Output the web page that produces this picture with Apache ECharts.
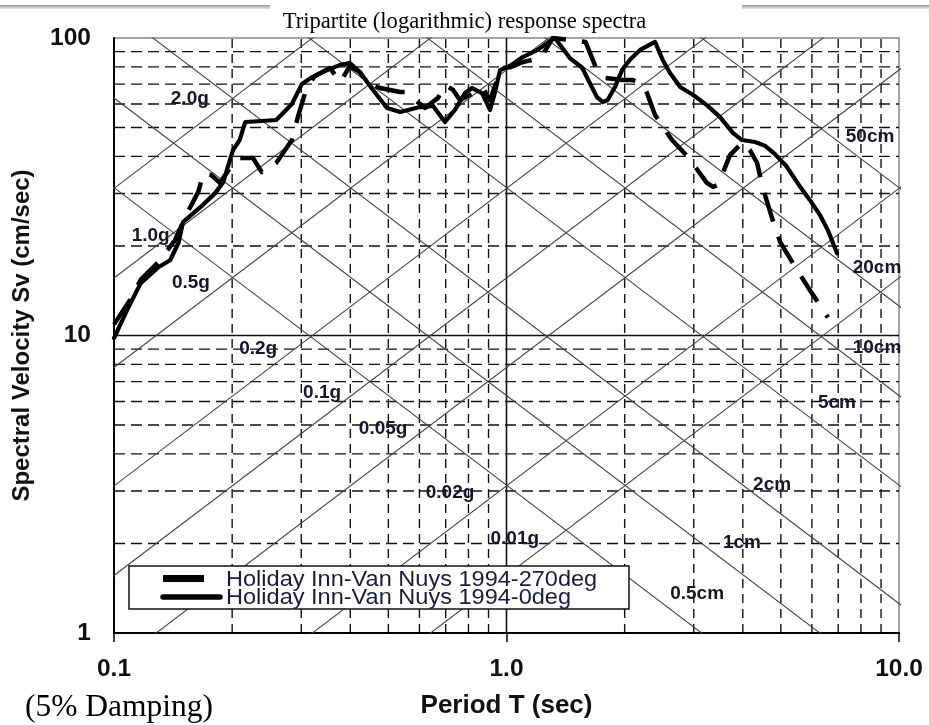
<!DOCTYPE html>
<html>
<head>
<meta charset="utf-8">
<script src="https://cdn.jsdelivr.net/npm/echarts@6/dist/echarts.min.js"></script>
<style>
html,body{margin:0;padding:0;background:#fff;}
#chart{width:929px;height:725px;}
</style>
</head>
<body>
<div id="chart"></div>
<script>
// ---------------- data ----------------
const titleText = 'Tripartite (logarithmic) response spectra';
const xAxisName = 'Period T (sec)';
const yAxisName = 'Spectral Velocity Sv (cm/sec)';
const dampingNote = '(5% Damping)';
const seriesNames = ['Holiday Inn-Van Nuys 1994-270deg', 'Holiday Inn-Van Nuys 1994-0deg'];

const xTickValues = [0.1, 1, 10];
const xTickLabels = ['0.1', '1.0', '10.0'];
const yTickValues = [1, 10, 100];
const yTickLabels = ['1', '10', '100'];

const xMinorGrid = [0.2, 0.3, 0.4, 0.5, 0.6, 0.7, 0.8, 0.9, 2, 3, 4, 5, 6, 7, 8, 9];
const yMinorGrid = [2, 3, 4, 5, 6, 7, 8, 9, 20, 30, 40, 50, 60, 70, 80, 90];
const xMajorGrid = [1];
const yMajorGrid = [10];

// tripartite diagonals: pseudo-acceleration (g) and displacement (cm)
const accelLevels = [0.01, 0.02, 0.05, 0.1, 0.2, 0.5, 1, 2];
const dispLevels = [0.5, 1, 2, 5, 10, 20, 50];
const gravity = 981; // cm/s^2

// diagonal labels: text and anchor (T, Sv)
const diagLabels = ['2.0g', '1.0g', '0.5g', '0.2g', '0.1g', '0.05g', '0.02g', '0.01g',
                    '50cm', '20cm', '10cm', '5cm', '2cm', '1cm', '0.5cm'];
const diagLabelT = [0.156, 0.124, 0.157, 0.233, 0.339, 0.485, 0.718, 1.05,
                    8.44, 8.79, 8.79, 6.95, 4.75, 3.98, 3.06];
const diagLabelSv = [62.4, 21.6, 15.0, 9.0, 6.41, 4.85, 2.95, 2.07,
                     46.5, 16.9, 9.08, 5.93, 3.15, 2.01, 1.36];

// Holiday Inn - Van Nuys 1994, 270deg (dashed)
const period270 = [0.100, 0.110, 0.117, 0.130, 0.143, 0.154, 0.164, 0.169, 0.177, 0.186,
  0.200, 0.209, 0.226, 0.238, 0.259, 0.284, 0.294, 0.310, 0.325, 0.355,
  0.377, 0.399, 0.423, 0.441, 0.476, 0.536, 0.558, 0.585, 0.620, 0.669,
  0.697, 0.731, 0.761, 0.807, 0.871, 0.908, 0.946, 0.974, 1.02, 1.10,
  1.22, 1.28, 1.31, 1.45, 1.59, 1.70, 1.78, 1.98, 2.10, 2.23,
  2.28, 2.39, 2.64, 2.90, 3.24, 3.36, 3.46, 3.71, 4.00, 4.17,
  4.35, 4.50, 4.75, 4.98, 5.50, 5.93, 6.59];
const sv270 = [10.9, 13.2, 15.4, 17.7, 20.9, 26.0, 30.4, 35.2, 34.6, 32.6,
  37.4, 39.5, 39.5, 35.4, 38.0, 45.4, 54.2, 68.4, 74.5, 79.3,
  71.1, 80.5, 76.8, 70.6, 67.9, 65.8, 65.8, 61.9, 58.2, 62.9,
  69.5, 66.9, 61.9, 64.3, 67.9, 61.9, 72.2, 79.3, 79.7, 83.0,
  85.6, 94.7, 100, 98.5, 97.0, 78.0, 73.4, 72.2, 72.2, 69.5,
  65.3, 55.1, 45.4, 39.8, 32.6, 31.6, 32.1, 40.4, 44.7, 42.0,
  38.0, 31.3, 24.8, 20.6, 16.6, 14.2, 11.5];

// Holiday Inn - Van Nuys 1994, 0deg (solid)
const period0 = [0.100, 0.109, 0.117, 0.130, 0.139, 0.146, 0.150, 0.154, 0.166, 0.181,
  0.190, 0.195, 0.201, 0.209, 0.216, 0.238, 0.259, 0.284, 0.301, 0.320,
  0.349, 0.377, 0.399, 0.423, 0.457, 0.496, 0.536, 0.602, 0.650, 0.697,
  0.739, 0.784, 0.817, 0.866, 0.908, 0.935, 0.963, 1.02, 1.10, 1.20,
  1.28, 1.33, 1.37, 1.45, 1.56, 1.63, 1.70, 1.76, 1.81, 1.89,
  1.97, 2.06, 2.19, 2.39, 2.50, 2.61, 2.77, 2.99, 3.24, 3.50,
  3.78, 3.98, 4.30, 4.56, 4.83, 5.18, 5.60, 5.93, 6.29, 6.59, 6.95];
const sv0 = [9.8, 12.5, 15.0, 17.0, 17.9, 20.5, 24.1, 24.8, 27.0, 30.1,
  32.8, 36.9, 42.0, 45.4, 52.2, 52.6, 53.0, 60.0, 70.0, 73.9,
  78.0, 81.2, 82.4, 76.8, 66.9, 58.2, 56.4, 58.6, 59.1, 52.2,
  57.3, 65.3, 67.9, 65.3, 57.3, 65.8, 78.0, 80.5, 86.3, 91.2,
  97.0, 100, 94.7, 85.6, 79.3, 70.6, 63.3, 60.9, 61.9, 68.4,
  78.0, 84.4, 91.2, 97.0, 84.4, 76.3, 68.4, 64.3, 59.5, 54.2,
  47.9, 45.4, 44.7, 43.4, 40.7, 36.9, 31.6, 28.5, 25.4, 22.6, 18.9];

// ---------------- chart ----------------
const chart = echarts.init(document.getElementById('chart'), null, {renderer: 'canvas'});
const zip = (a, b) => a.map((v, i) => [v, b[i]]);
const findLabel = (vals, labels, v) => {
  const i = vals.findIndex(t => Math.abs(t - v) / t < 1e-6);
  return i >= 0 ? labels[i] : '';
};
const SANS = 'Liberation Sans, Arial, sans-serif';
const SERIF = 'Liberation Serif, Times New Roman, serif';

const series = [];
const lineBase = {type: 'line', symbol: 'none', silent: true, animation: false, clip: true};

xMinorGrid.forEach(v => series.push(Object.assign({}, lineBase, {
  data: [[v, 1], [v, 100]], z: 1,
  lineStyle: {color: '#111', width: 1.4, type: [9, 6]}
})));
yMinorGrid.forEach(v => series.push(Object.assign({}, lineBase, {
  data: [[0.1, v], [10, v]], z: 1,
  lineStyle: {color: '#111', width: 1.4, type: [11, 6]}
})));
xMajorGrid.forEach(v => series.push(Object.assign({}, lineBase, {
  data: [[v, 1], [v, 100]], z: 1, lineStyle: {color: '#111', width: 1.6}
})));
yMajorGrid.forEach(v => series.push(Object.assign({}, lineBase, {
  data: [[0.1, v], [10, v]], z: 1, lineStyle: {color: '#111', width: 1.6}
})));

const T0 = 0.05, T1 = 20;
accelLevels.forEach(a => series.push(Object.assign({}, lineBase, {
  data: [[T0, a * gravity * T0 / (2 * Math.PI)], [T1, a * gravity * T1 / (2 * Math.PI)]], z: 2,
  lineStyle: {color: '#444', width: 1.1}
})));
dispLevels.forEach(d => series.push(Object.assign({}, lineBase, {
  data: [[T0, 2 * Math.PI * d / T0], [T1, 2 * Math.PI * d / T1]], z: 2,
  lineStyle: {color: '#444', width: 1.1}
})));

series.push({
  type: 'scatter', silent: true, animation: false, symbolSize: 0, z: 3,
  itemStyle: {opacity: 1, color: 'transparent'},
  data: diagLabels.map((n, i) => ({name: n, value: [diagLabelT[i], diagLabelSv[i]]})),
  label: {
    show: true, position: 'inside', formatter: p => p.name, opacity: 1,
    fontFamily: SANS, fontSize: 19, fontWeight: 'bold', color: '#15152c'
  }
});

series.push(Object.assign({}, lineBase, {
  name: seriesNames[0], data: zip(period270, sv270), z: 5,
  lineStyle: {color: '#000', width: 4.5, type: [30, 16], cap: 'butt', join: 'round'}
}));
series.push(Object.assign({}, lineBase, {
  name: seriesNames[1], data: zip(period0, sv0), z: 6,
  lineStyle: {color: '#000', width: 4.2, cap: 'round', join: 'round'}
}));

const option = {
  backgroundColor: '#fff',
  animation: false,
  title: {
    text: titleText, left: 'center', top: 6,
    textStyle: {fontFamily: SERIF, fontSize: 22.6, fontWeight: 'normal', color: '#000'}
  },
  grid: {left: 114, right: 30, top: 38, bottom: 92, show: true, borderColor: '#888', borderWidth: 1.5, backgroundColor: '#fff'},
  xAxis: {
    type: 'log', logBase: 10, min: 0.1, max: 10,
    name: xAxisName, nameLocation: 'middle', nameGap: 60,
    nameTextStyle: {fontFamily: SANS, fontSize: 26, fontWeight: 'bold', color: '#111'},
    axisLine: {show: true, lineStyle: {color: '#000', width: 2}},
    axisTick: {show: true, length: 9, lineStyle: {color: '#000', width: 1.5}},
    minorTick: {show: false}, splitLine: {show: false},
    axisLabel: {
      margin: 24, showMinLabel: true, showMaxLabel: true,
      formatter: v => findLabel(xTickValues, xTickLabels, v),
      fontFamily: SANS, fontSize: 24.5, fontWeight: 'bold', color: '#111'
    }
  },
  yAxis: {
    type: 'log', logBase: 10, min: 1, max: 100,
    name: yAxisName, nameLocation: 'middle', nameGap: 80, nameRotate: 90,
    nameTextStyle: {fontFamily: SANS, fontSize: 24, fontWeight: 'bold', color: '#111'},
    axisLine: {show: true, lineStyle: {color: '#000', width: 2}},
    axisTick: {show: false},
    minorTick: {show: false}, splitLine: {show: false},
    axisLabel: {
      margin: 23, showMinLabel: true, showMaxLabel: true,
      formatter: v => findLabel(yTickValues, yTickLabels, v),
      fontFamily: SANS, fontSize: 24.5, fontWeight: 'bold', color: '#111'
    }
  },
  series: series,
  graphic: [
    {type: 'rect', left: 0, top: 5, z: 100, shape: {width: 270, height: 4},
     style: {fill: new echarts.graphic.LinearGradient(0, 0, 0, 1, [{offset: 0, color: '#9a9a9a'}, {offset: 1, color: '#e6e6e6'}])}},
    {type: 'rect', left: 742, top: 5, z: 100, shape: {width: 187, height: 4},
     style: {fill: new echarts.graphic.LinearGradient(0, 0, 0, 1, [{offset: 0, color: '#9a9a9a'}, {offset: 1, color: '#e6e6e6'}])}},
    {type: 'text', x: 25, y: 708, z: 100,
     style: {text: dampingNote, fontFamily: SERIF, fontSize: 31.5, fill: '#000', verticalAlign: 'middle', align: 'left'}},
    {type: 'rect', z: 100, shape: {x: 129, y: 566, width: 500, height: 43},
     style: {fill: '#fff', stroke: '#111', lineWidth: 1.5}},
    {type: 'rect', z: 101, shape: {x: 163, y: 575, width: 41, height: 7}, style: {fill: '#000'}},
    {type: 'line', z: 101, shape: {x1: 163, y1: 597, x2: 220, y2: 597}, style: {stroke: '#000', lineWidth: 5.5, lineCap: 'round'}},
    {type: 'text', x: 226, y: 580, z: 101, scaleX: 1.07,
     style: {text: seriesNames[0], fontFamily: SANS, fontSize: 22, fill: '#1b1b40', verticalAlign: 'middle', align: 'left'}},
    {type: 'text', x: 226, y: 598, z: 101, scaleX: 1.07,
     style: {text: seriesNames[1], fontFamily: SANS, fontSize: 22, fill: '#1b1b40', verticalAlign: 'middle', align: 'left'}}
  ]
};
chart.setOption(option);
</script>
</body>
</html>
